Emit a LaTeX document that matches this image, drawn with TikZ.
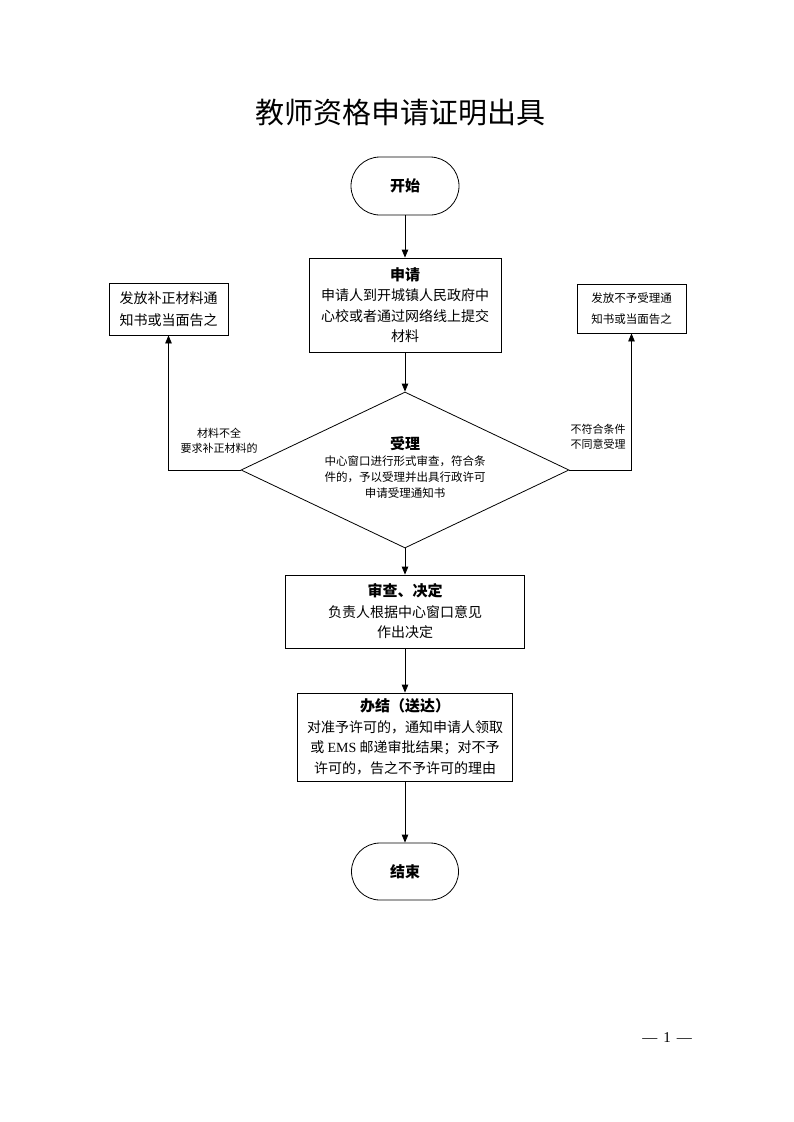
\documentclass[tikz,border=0pt]{standalone}
\usepackage{fontspec}
\setmainfont{Liberation Serif}
\newfontfamily\cjk{Noto Sans CJK SC}
\newfontfamily\lat{Liberation Serif}
\usetikzlibrary{arrows.meta,shapes.geometric,shapes.misc}
\begin{document}
\begin{tikzpicture}[x=1pt,y=-1pt,
  box/.style={draw, line width=0.8pt, align=center, inner sep=0pt},
  arr/.style={-{Triangle[length=8pt,width=6.5pt]}, line width=0.8pt},
  body/.style={font=\cjk\fontsize{14}{20.5}\selectfont},
  small/.style={font=\cjk\fontsize{11}{15.5}\selectfont, align=center, inner sep=0pt}
]
\useasboundingbox (0,0) rectangle (793,1122);

\node[font=\cjk\fontsize{29}{31}\selectfont] (title) at (400,113) {教师资格申请证明出具};

\node[draw, line width=0.8pt, rounded rectangle, minimum width=108pt, minimum height=58pt, inner sep=0pt,
      font=\cjk\bfseries\fontsize{15}{18}\selectfont] (start) at (405,186) {开始};

\node[box, body, minimum width=192pt, minimum height=94pt] (apply) at (405,305)
  {{\bfseries\fontsize{15}{21}\selectfont 申请}\\申请人到开城镇人民政府中\\心校或者通过网络线上提交\\材料};

\node[draw, line width=0.8pt, diamond, minimum width=328pt, minimum height=156pt, inner sep=0pt] (d) at (405,470) {};
\node[small, font=\cjk\fontsize{11.5}{16}\selectfont] (dtext) at (405,467)
  {{\bfseries\fontsize{15}{19}\selectfont 受理}\\中心窗口进行形式审查，符合条\\件的，予以受理并出具行政许可\\申请受理通知书};

\node[box, font=\cjk\fontsize{14}{22}\selectfont, minimum width=119pt, minimum height=52pt] (lbox) at (168.5,309)
  {发放补正材料通\\知书或当面告之};
\node[box, font=\cjk\fontsize{11.5}{21}\selectfont, minimum width=109pt, minimum height=49pt] (rbox) at (631.5,308.5)
  {发放不予受理通\\知书或当面告之};

\node[small] (llabel) at (219,441) {材料不全\\要求补正材料的};
\node[small] (rlabel) at (598,437) {不符合条件\\不同意受理};

\node[box, body, minimum width=239pt, minimum height=73pt] (review) at (405,611.5)
  {{\bfseries\fontsize{15}{22}\selectfont 审查、决定}\\负责人根据中心窗口意见\\作出决定};

\node[box, body, minimum width=215pt, minimum height=88pt] (finish) at (405,737)
  {{\bfseries\fontsize{15}{21}\selectfont 办结（送达）}\\对准予许可的，通知申请人领取\\或 {\lat EMS} 邮递审批结果；对不予\\许可的，告之不予许可的理由};

\node[draw, line width=0.8pt, rounded rectangle, minimum width=107pt, minimum height=57pt, inner sep=0pt,
      font=\cjk\bfseries\fontsize{15}{18}\selectfont] (end) at (405,871.5) {结束};

\node[font=\lat\fontsize{15}{17}\selectfont] (page) at (667,1038) {—\hspace{6pt}1\hspace{6pt}—};

\draw[arr] (start.south) -- (apply.north);
\draw[arr] (apply.south) -- (d.north);
\draw[arr] (d.west) -| (lbox.south);
\draw[arr] (d.east) -| (rbox.south);
\draw[arr] (d.south) -- (review.north);
\draw[arr] (review.south) -- (finish.north);
\draw[arr] (finish.south) -- (end.north);
\end{tikzpicture}
\end{document}
